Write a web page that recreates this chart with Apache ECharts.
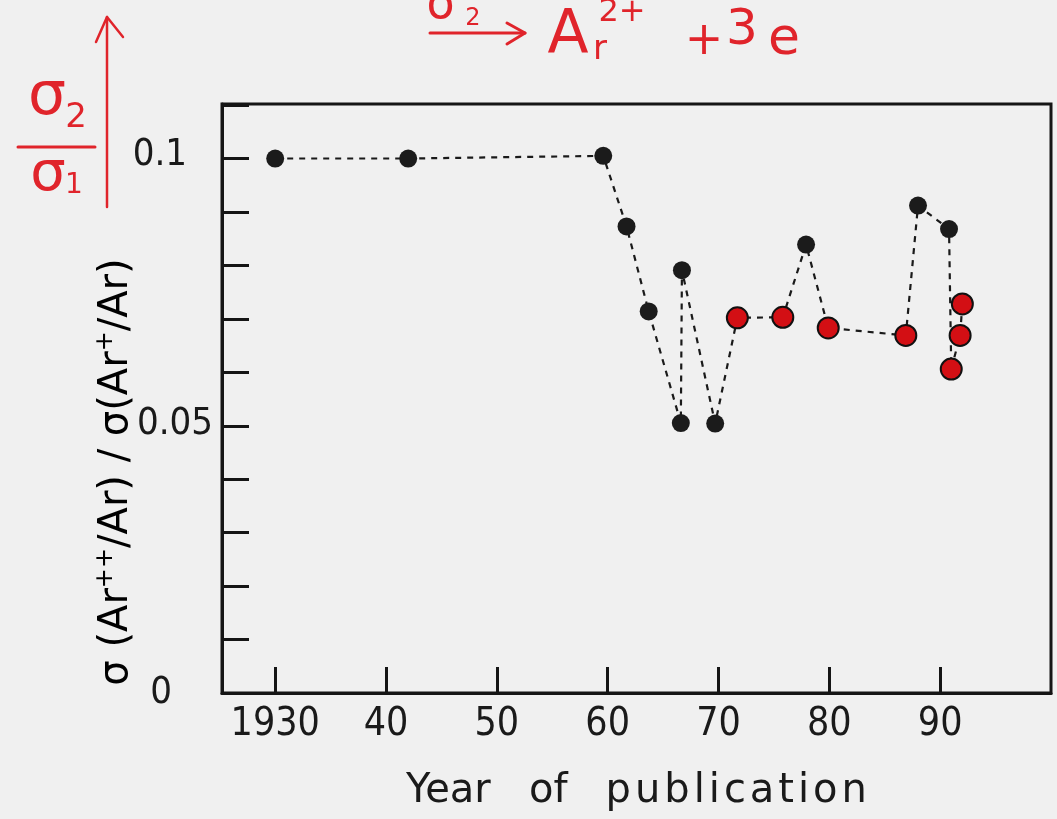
<!DOCTYPE html>
<html>
<head>
<meta charset="utf-8">
<script src="https://cdn.jsdelivr.net/npm/echarts@6/dist/echarts.min.js"></script>
<style>
  html, body { margin: 0; padding: 0; background: #f0f0f0; }
  #chart { width: 1057px; height: 819px; }
</style>
</head>
<body>
<div id="chart"></div>
<script>
// Ratio sigma(Ar++/Ar) / sigma(Ar+/Ar) by year of publication, in the order the dashed line joins them
const years  = [1930, 1942, 1959.6, 1961.7, 1963.7, 1966.6, 1966.7, 1969.7, 1971.7, 1975.8, 1977.9, 1979.9, 1986.9, 1988.0, 1990.8, 1991.0, 1991.8, 1992.0];
const ratios = [0.100, 0.100, 0.1005, 0.0873, 0.0714, 0.0505, 0.0791, 0.0504, 0.0702, 0.0703, 0.0839, 0.0683, 0.0669, 0.0912, 0.0868, 0.0606, 0.0669, 0.0728];
// 'k' = black marker, 'r' = red marker
const kinds  = ['k', 'k', 'k', 'k', 'k', 'k', 'k', 'k', 'r', 'r', 'k', 'r', 'r', 'k', 'k', 'r', 'r', 'r'];

const xTickLabels = { 1930: '1930', 1940: '40', 1950: '50', 1960: '60', 1970: '70', 1980: '80', 1990: '90' };
const yTickLabels = { 0: '{c|0}', 5: '{b|0.05}', 10: '{a|0.1}' };

const INK = '#151515';
const RED = '#e0242b';
const MARK_RED = '#d30f14';
const HS = '\u200A'; // hair space, used to open up the axis title

const chart = echarts.init(document.getElementById('chart'), null, { renderer: 'canvas' });

const points = years.map((y, i) => ({
  value: [y, ratios[i]],
  symbolSize: kinds[i] === 'r' ? 21 : 18,
  itemStyle: {
    color: kinds[i] === 'r' ? MARK_RED : '#1b1b1b',
    borderColor: '#111',
    borderWidth: kinds[i] === 'r' ? 2 : 0
  }
}));

const yLabelFont = { fontFamily: '"DejaVu Sans Condensed", "DejaVu Sans", sans-serif', fontSize: 38, color: '#1a1a1a' };

const redText = (text, x, y, size) => ({
  type: 'text', x, y, silent: true,
  style: { text, fill: RED, font: `${size}px "DejaVu Sans", sans-serif`, align: 'center', verticalAlign: 'middle' }
});
const redLine = (pts, w) => ({
  type: 'polyline', silent: true,
  shape: { points: pts },
  style: { stroke: RED, lineWidth: w, fill: null, lineCap: 'round', lineJoin: 'round' }
});

const xName = 'Year   of   ' + 'publication'.split('').join(HS);

chart.setOption({
  backgroundColor: '#f0f0f0',
  animation: false,
  grid: {
    left: 222, right: 6, top: 104, bottom: 126,
    show: true, borderColor: INK, borderWidth: 3, backgroundColor: 'transparent'
  },
  xAxis: {
    type: 'value',
    min: 1925.2, max: 2000,
    splitNumber: 7,
    axisLine: { show: true, lineStyle: { color: INK, width: 3 } },
    axisTick: { show: true, inside: true, length: 26, lineStyle: { color: INK, width: 3 } },
    splitLine: { show: false },
    axisLabel: {
      margin: 12,
      showMinLabel: false, showMaxLabel: false,
      fontFamily: '"DejaVu Sans Condensed", "DejaVu Sans", sans-serif',
      fontSize: 39, color: '#1a1a1a',
      formatter: v => xTickLabels[Math.round(v)] && Math.abs(v - Math.round(v)) < 1e-6 ? xTickLabels[Math.round(v)] : ''
    },
    name: xName,
    nameLocation: 'middle',
    nameGap: 79,
    nameTextStyle: { fontFamily: '"DejaVu Sans", sans-serif', fontSize: 40, color: '#1a1a1a' }
  },
  yAxis: {
    type: 'value',
    min: 0, max: 0.1102, interval: 0.01,
    axisLine: { show: true, lineStyle: { color: INK, width: 3 } },
    axisTick: { show: true, inside: true, length: 27, lineStyle: { color: INK, width: 3 } },
    splitLine: { show: false },
    axisLabel: {
      margin: 9,
      formatter: v => {
        const k = Math.round(v * 100);
        return Math.abs(v * 100 - k) < 1e-6 && yTickLabels[k] ? yTickLabels[k] : '';
      },
      rich: {
        a: Object.assign({ padding: [0, 26, 6, 0] }, yLabelFont),
        b: Object.assign({ padding: [0, 0, 4, 0] }, yLabelFont),
        c: Object.assign({ padding: [0, 41, 0, 0] }, yLabelFont)
      }
    }
  },
  series: [{
    type: 'line',
    data: points,
    symbol: 'circle',
    showAllSymbol: true,
    lineStyle: { color: '#1a1a1a', width: 2.2, type: [6, 6] },
    z: 3
  }],
  graphic: [
    // rotated y-axis title
    {
      type: 'text', x: 117, y: 472, rotation: Math.PI / 2, silent: true,
      style: {
        text: '{m|σ (Ar}{s|++}{m|/Ar) / σ(Ar}{s|+}{m|/Ar)}',
        align: 'center', verticalAlign: 'middle',
        rich: {
          m: { fontFamily: '"DejaVu Sans", sans-serif', fontSize: 40, color: '#1a1a1a', lineHeight: 46 },
          s: { fontFamily: '"DejaVu Sans", sans-serif', fontSize: 24, color: '#1a1a1a', lineHeight: 46, padding: [0, 0, 22, 0] }
        }
      }
    },
    // sigma2 / sigma1 with upward arrow
    redText('σ', 47, 98, 60),
    redText('2', 76, 118, 34),
    redLine([[18, 147], [95, 147]], 3),
    redText('σ', 48, 175, 56),
    redText('1', 74, 186, 28),
    redLine([[107, 207], [107, 17]], 2.5),
    redLine([[96, 42], [107, 17], [123, 37]], 2.5),
    // sigma2 -> Ar2+ + 3e
    redText('σ', 441, 6, 46),
    redText('2', 473, 19, 24),
    redLine([[430, 33], [525, 33]], 3),
    redLine([[507, 23], [525, 33], [507, 44]], 3),
    redText('A', 568, 36, 60),
    redText('r', 600, 50, 34),
    redText('2+', 622, 13, 32),
    redText('+', 704, 42, 46),
    redText('3', 742, 31, 50),
    redText('e', 784, 40, 52)
  ]
});
</script>
</body>
</html>
